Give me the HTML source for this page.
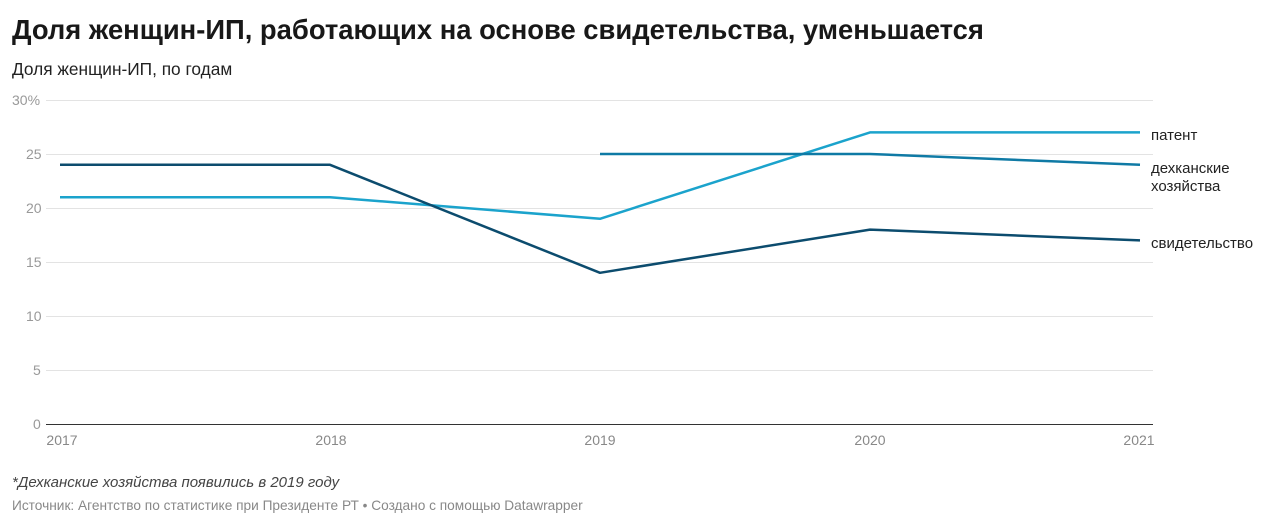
<!DOCTYPE html>
<html><head><meta charset="utf-8"><style>
body{margin:0;background:#fff;width:1280px;height:527px;overflow:hidden;font-family:"Liberation Sans",sans-serif;}
.t{position:absolute;left:12px;top:14px;font-size:27.4px;font-weight:bold;color:#181818;}
.s{position:absolute;left:12px;top:59px;font-size:17.3px;color:#222;}
.n{position:absolute;left:12px;top:474px;font-size:15px;font-style:italic;color:#444;}
.src{position:absolute;left:12px;top:498px;font-size:13.7px;color:#888;}
svg{position:absolute;left:0;top:0}
</style></head><body>
<div class="t">Доля женщин-ИП, работающих на основе свидетельства, уменьшается</div>
<div class="s">Доля женщин-ИП, по годам</div>
<svg width="1280" height="527" font-family="Liberation Sans, sans-serif">
<g stroke="#e3e3e3" stroke-width="1">
<line x1="46" x2="1153" y1="100.5" y2="100.5"/><line x1="46" x2="1153" y1="154.5" y2="154.5"/>
<line x1="46" x2="1153" y1="208.5" y2="208.5"/><line x1="46" x2="1153" y1="262.5" y2="262.5"/>
<line x1="46" x2="1153" y1="316.5" y2="316.5"/><line x1="46" x2="1153" y1="370.5" y2="370.5"/>
</g>
<line x1="46" x2="1153" y1="424.5" y2="424.5" stroke="#333"/>
<g font-size="14" fill="#999">
<text x="12" y="105">30%</text><text x="26" y="159">25</text><text x="26" y="213">20</text>
<text x="26" y="267">15</text><text x="26" y="321">10</text><text x="33" y="375">5</text><text x="33" y="429">0</text>
</g>
<g font-size="14" fill="#888" text-anchor="middle">
<text x="62" y="445">2017</text><text x="331" y="445">2018</text><text x="600" y="445">2019</text>
<text x="870" y="445">2020</text><text x="1139" y="445">2021</text>
</g>
<g fill="none" stroke-width="2.5" stroke-linejoin="round">
<polyline stroke="#1ba3cc" points="60,197.2 330,197.2 600,218.8 870,132.4 1140,132.4"/>
<polyline stroke="#0f7aa5" points="600,154 870,154 1140,164.8"/>
<polyline stroke="#0c4c6e" points="60,164.8 330,164.8 600,272.8 870,229.6 1140,240.4"/>
</g>
<g font-size="15" fill="#222">
<text x="1151" y="140">патент</text>
<text x="1151" y="173">дехканские</text><text x="1151" y="191">хозяйства</text>
<text x="1151" y="248">свидетельство</text>
</g>
</svg>
<div class="n">*Дехканские хозяйства появились в 2019 году</div>
<div class="src">Источник: Агентство по статистике при Президенте РТ • Создано с помощью Datawrapper</div>
</body></html>
